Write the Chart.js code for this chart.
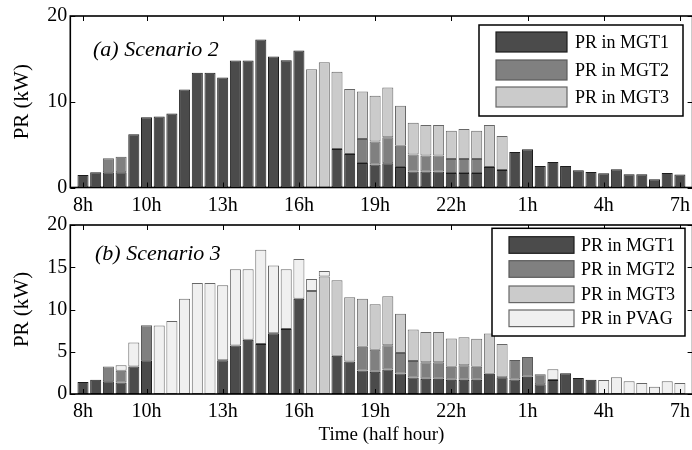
<!DOCTYPE html>
<html>
<head>
<meta charset="utf-8">
<title>PR by MGT - Scenario 2 / 3</title>
<script src="https://cdn.jsdelivr.net/npm/chart.js@4.4.1/dist/chart.umd.min.js"></script>
<style>
  html, body { margin: 0; padding: 0; background: #fff; overflow: hidden; }
  #wrap { position: relative; width: 692px; height: 450px; overflow: hidden; }
  canvas { position: absolute; left: 0; }
  #chartTop { top: 0; }
  #chartBottom { top: 210px; }
</style>
</head>
<body>
<div id="wrap">
  <canvas id="chartTop" width="700" height="215"></canvas>
  <canvas id="chartBottom" width="700" height="240"></canvas>
</div>
<script>
// Tick labels of the time axis (half-hour slots, 48 per day starting at 8h)
const hourLabels = ["8h", "10h", "13h", "16h", "19h", "22h", "1h", "4h", "7h"];
const hourTickIndex = [0, 5, 11, 17, 23, 29, 35, 41, 47];

// (a) Scenario 2 : PR per generator, one value per half hour (kW)
const s2Mgt1 = [1.47, 1.78, 1.78, 1.78, 6.2, 8.18, 8.29, 8.64, 11.43, 13.37,
  13.37, 12.83, 14.81, 14.81, 17.25, 15.27, 14.83, 15.97, 0, 0,
  4.5, 3.9, 2.87, 2.67, 2.83, 2.4, 1.86, 1.86, 1.86, 1.7,
  1.7, 1.7, 2.38, 2.05, 4.15, 4.46, 2.52, 2.98, 2.52, 2.02,
  1.82, 1.67, 2.13, 1.55, 1.55, 0.97, 1.7, 1.51];
const s2Mgt2 = [0, 0, 1.63, 1.82, 0, 0, 0, 0, 0, 0,
  0, 0, 0, 0, 0, 0, 0, 0, 0, 0,
  0, 0, 2.79, 2.68, 3.02, 2.48, 1.98, 1.86, 1.86, 1.63,
  1.63, 1.63, 0, 0, 0, 0, 0, 0, 0, 0,
  0, 0, 0, 0, 0, 0, 0, 0];
const s2Mgt3 = [0, 0, 0, 0, 0, 0, 0, 0, 0, 0,
  0, 0, 0, 0, 0, 0, 0, 0, 13.8, 14.6,
  8.99, 7.6, 5.54, 5.35, 5.82, 4.65, 3.72, 3.57, 3.57, 3.3,
  3.49, 3.3, 4.91, 3.95, 0, 0, 0, 0, 0, 0,
  0, 0, 0, 0, 0, 0, 0, 0];

// (b) Scenario 3 : same generators plus the PV array
const s3Mgt1 = [1.43, 1.69, 1.5, 1.35, 3.26, 4.0, 0, 0, 0, 0,
  0, 4.0, 5.74, 6.42, 5.93, 7.2, 7.69, 11.27, 0, 0,
  4.54, 3.86, 2.78, 2.63, 2.89, 2.44, 1.95, 1.8, 1.8, 1.69,
  1.69, 1.69, 2.4, 1.99, 1.73, 2.05, 1.16, 1.65, 2.46, 1.88,
  1.69, 0, 0, 0, 0, 0, 0, 0];
const s3Mgt2 = [0, 0, 1.76, 1.39, 0, 4.14, 0, 0, 0, 0,
  0, 0, 0, 0, 0, 0, 0, 0, 0, 0,
  0, 0, 2.81, 2.62, 2.89, 2.4, 1.95, 1.95, 1.95, 1.54,
  1.72, 1.54, 0, 0, 2.28, 2.32, 1.17, 0, 0, 0,
  0, 0, 0, 0, 0, 0, 0, 0];
const s3Mgt3 = [0, 0, 0, 0, 0, 0, 0, 0, 0, 0,
  0, 0, 0, 0, 0, 0, 0, 0, 12.2, 13.92,
  8.93, 7.58, 5.67, 5.37, 5.78, 4.65, 3.72, 3.6, 3.6, 3.34,
  3.31, 3.3, 4.75, 3.94, 0, 0, 0, 0, 0, 0,
  0, 0, 0, 0, 0, 0, 0, 0];
const s3Pvag = [0, 0, 0, 0.67, 2.82, 0, 8.1, 8.63, 11.26, 13.13,
  13.13, 8.87, 9.01, 8.33, 11.14, 8.0, 7.06, 4.71, 1.42, 0.64,
  0, 0, 0, 0, 0, 0, 0, 0, 0, 0,
  0, 0, 0, 0, 0, 0, 0, 1.28, 0, 0,
  0, 1.65, 1.99, 1.5, 1.31, 0.86, 1.5, 1.31];

// Grey levels of each source (fill / edge)
const seriesStyle = {
  "PR in MGT1": { fill: "#4b4b4b", edge: "#1c1c1c" },
  "PR in MGT2": { fill: "#808080", edge: "#5a5a5a" },
  "PR in MGT3": { fill: "#cbcbcb", edge: "#676767" },
  "PR in PVAG": { fill: "#f0f0f0", edge: "#676767" },
};

const serif = "'Liberation Serif', 'Times New Roman', serif";
Chart.defaults.font.family = serif;
Chart.defaults.color = "#000";

// Turn one series into {x, y} points, empty slots are skipped
function toPoints(values) {
  return values.map((v, i) => ({ x: i, y: v > 0 ? v : null }));
}

function makeDataset(label, values) {
  const style = seriesStyle[label];
  return {
    label: label,
    data: toPoints(values),
    backgroundColor: style.fill,
    borderColor: style.edge,
    borderWidth: 1,
    borderSkipped: false,
    barPercentage: 0.87,
    categoryPercentage: 1.0,
  };
}

// Frame with inward ticks, panel caption and boxed legend (matlab look)
function panelDecor(cfg) {
  return {
    id: "panelDecor",
    afterDraw(chart) {
      const { ctx, chartArea: a, scales } = chart;
      ctx.save();

      // inward tick marks on the four sides
      ctx.strokeStyle = "#000";
      ctx.lineWidth = 1;
      ctx.beginPath();
      hourTickIndex.forEach((v) => {
        const x = Math.round(scales.x.getPixelForValue(v)) + 0.5;
        ctx.moveTo(x, a.bottom);
        ctx.lineTo(x, a.bottom - 5);
        ctx.moveTo(x, a.top);
        ctx.lineTo(x, a.top + 5);
      });
      scales.y.ticks.forEach((t) => {
        const y = Math.round(scales.y.getPixelForValue(t.value)) + 0.5;
        ctx.moveTo(a.left, y);
        ctx.lineTo(a.left + 5, y);
        ctx.moveTo(a.right, y);
        ctx.lineTo(a.right - 5, y);
      });
      ctx.stroke();

      // axes box
      ctx.lineWidth = 1.6;
      ctx.strokeRect(a.left, a.top, a.right - a.left, a.bottom - a.top);

      // panel caption
      ctx.fillStyle = "#000";
      ctx.font = "italic 22px " + serif;
      ctx.textBaseline = "alphabetic";
      ctx.textAlign = "left";
      ctx.fillText(cfg.caption, cfg.captionX, cfg.captionY);

      // legend box
      const b = cfg.legend;
      ctx.fillStyle = "#fff";
      ctx.fillRect(b.x, b.y, b.w, b.h);
      ctx.lineWidth = 1.5;
      ctx.strokeStyle = "#000";
      ctx.strokeRect(b.x, b.y, b.w, b.h);
      ctx.font = b.fontSize + "px " + serif;
      ctx.textBaseline = "middle";
      chart.data.datasets.forEach((ds, i) => {
        const cy = b.rows[i];
        ctx.fillStyle = ds.backgroundColor;
        ctx.fillRect(b.swatchX, cy - b.swatchH / 2, b.swatchW, b.swatchH);
        ctx.lineWidth = 1.2;
        ctx.strokeStyle = ds.borderColor;
        ctx.strokeRect(b.swatchX, cy - b.swatchH / 2, b.swatchW, b.swatchH);
        ctx.fillStyle = "#000";
        ctx.fillText(ds.label, b.textX, cy + 1);
      });

      ctx.restore();
    },
  };
}

// Common options for one panel
function panelOptions(yStep, xHeight, xTitle) {
  return {
    responsive: false,
    animation: false,
    layout: { padding: { left: 0, right: 7.4, top: 0, bottom: 0 } },
    plugins: { legend: { display: false }, tooltip: { enabled: false } },
    scales: {
      x: {
        type: "linear",
        stacked: true,
        offset: false,
        min: -1,
        max: 48,
        grid: { display: false, drawTicks: false },
        border: { display: false },
        afterBuildTicks: (scale) => {
          scale.ticks = hourTickIndex.map((v) => ({ value: v }));
        },
        afterFit: (scale) => {
          scale.height = xHeight;
        },
        ticks: {
          autoSkip: false,
          maxRotation: 0,
          padding: 6,
          font: { size: 20 },
          callback: (value) => hourLabels[hourTickIndex.indexOf(value)],
        },
        title: {
          display: !!xTitle,
          text: xTitle || "",
          font: { size: 19 },
          padding: { top: 0, bottom: 4 },
        },
      },
      y: {
        stacked: true,
        min: 0,
        max: 20,
        grid: { display: false, drawTicks: false },
        border: { display: false },
        afterFit: (scale) => {
          scale.width = 70.3;
        },
        ticks: { stepSize: yStep, padding: 3, font: { size: 20 } },
        title: {
          display: true,
          text: "PR (kW)",
          font: { size: 21 },
          padding: { top: 10, bottom: 0 },
        },
      },
    },
  };
}

// Top panel : Scenario 2
const topOptions = panelOptions(10, 27.5, null);
topOptions.layout.padding.top = 16;
new Chart(document.getElementById("chartTop"), {
  type: "bar",
  data: {
    datasets: [
      makeDataset("PR in MGT1", s2Mgt1),
      makeDataset("PR in MGT2", s2Mgt2),
      makeDataset("PR in MGT3", s2Mgt3),
    ],
  },
  options: topOptions,
  plugins: [
    panelDecor({
      caption: "(a) Scenario 2",
      captionX: 93,
      captionY: 56,
      legend: {
        x: 479, y: 25, w: 204, h: 91,
        swatchX: 496, swatchW: 71, swatchH: 20,
        rows: [42, 70, 97],
        textX: 575, fontSize: 18,
      },
    }),
  ],
});

// Bottom panel : Scenario 3
const bottomOptions = panelOptions(5, 56, "Time (half hour)");
bottomOptions.layout.padding.top = 7.5;
new Chart(document.getElementById("chartBottom"), {
  type: "bar",
  data: {
    datasets: [
      makeDataset("PR in MGT1", s3Mgt1),
      makeDataset("PR in MGT2", s3Mgt2),
      makeDataset("PR in MGT3", s3Mgt3),
      makeDataset("PR in PVAG", s3Pvag),
    ],
  },
  options: bottomOptions,
  plugins: [
    panelDecor({
      caption: "(b) Scenario 3",
      captionX: 95,
      captionY: 50,
      legend: {
        x: 492, y: 18.3, w: 193, h: 107.7,
        swatchX: 509, swatchW: 65, swatchH: 16.6,
        rows: [35, 59, 84.3, 108.3],
        textX: 581, fontSize: 18,
      },
    }),
  ],
});
</script>
</body>
</html>
